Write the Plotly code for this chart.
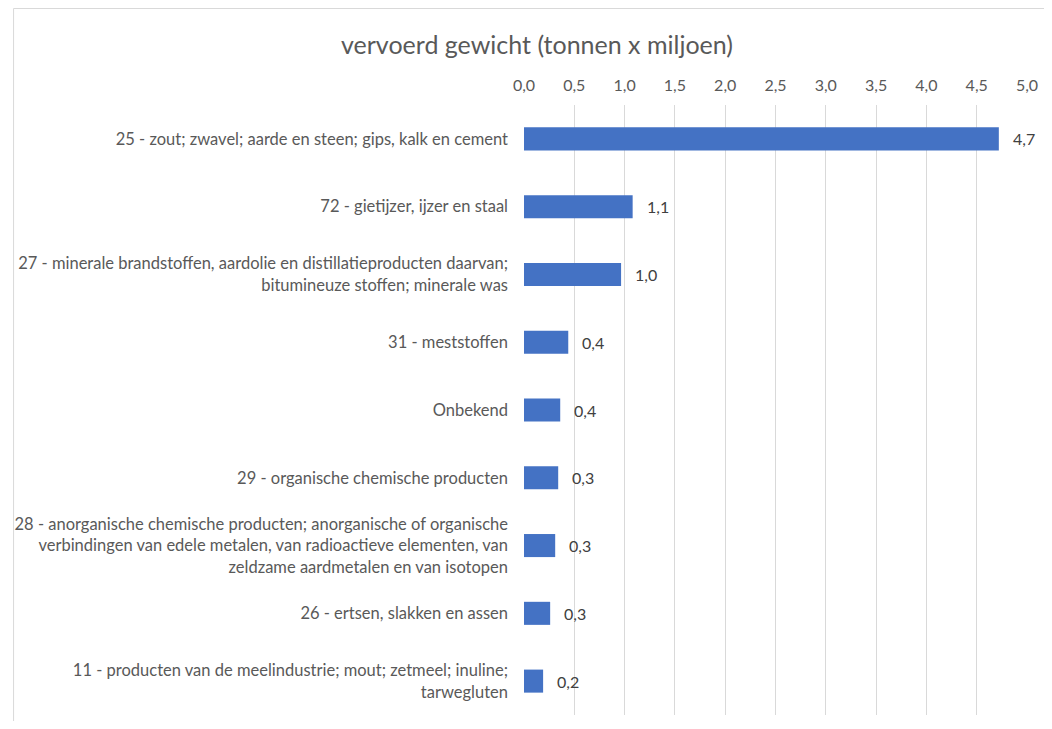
import plotly.graph_objects as go

categories = [
    "25 - zout; zwavel; aarde en steen; gips, kalk en cement",
    "72 - gietijzer, ijzer en staal",
    "27 - minerale brandstoffen, aardolie en distillatieproducten daarvan;<br>bitumineuze stoffen; minerale was",
    "31 - meststoffen",
    "Onbekend",
    "29 - organische chemische producten",
    "28 - anorganische chemische producten; anorganische of organische<br>verbindingen van edele metalen, van radioactieve elementen, van<br>zeldzame aardmetalen en van isotopen",
    "26 - ertsen, slakken en assen",
    "11 - producten van de meelindustrie; mout; zetmeel; inuline;<br>tarwegluten",
]
values = [4.72, 1.08, 0.965, 0.44, 0.36, 0.34, 0.31, 0.26, 0.19]
tick_vals = [0, 0.5, 1.0, 1.5, 2.0, 2.5, 3.0, 3.5, 4.0, 4.5, 5.0]
tick_text = ["0,0", "0,5", "1,0", "1,5", "2,0", "2,5", "3,0", "3,5", "4,0", "4,5", "5,0"]
title = "vervoerd gewicht (tonnen x miljoen)"

FONT = "Lato"
GREY = "#595959"

W, H = 1036, 713
L, R, T, B = 516, 12, 97, 6
PW, PH = W - L - R, H - T - B

fig = go.Figure(go.Bar(
    x=values, y=categories, orientation="h",
    marker=dict(color="#4472C4", line=dict(width=0)),
    hoverinfo="skip",
))

for c, v in zip(categories, values):
    fig.add_annotation(
        x=v, y=c, xref="x", yref="y", text=f"{v:.1f}".replace(".", ","),
        showarrow=False, xanchor="left", xshift=12,
        font=dict(family=FONT, size=16, color="#404040"),
    )

fig.add_shape(type="rect", xref="paper", yref="paper",
              x0=(0.5 - L) / PW, x1=(W + 20 - L) / PW,
              y0=-0.2, y1=(PH + T - 0.5) / PH,
              line=dict(color="#d9d9d9", width=1), layer="below")

fig.update_layout(
    width=W, height=H,
    margin=dict(l=L, r=R, t=T, b=B),
    paper_bgcolor="white", plot_bgcolor="white",
    bargap=0.66,
    showlegend=False,
    title=dict(text=title, x=529 / W, xanchor="center", y=1 - 37 / H, yanchor="middle",
               font=dict(family=FONT, size=25, color=GREY)),
    xaxis=dict(side="top", range=[0, 5.0], tickvals=tick_vals, ticktext=tick_text,
               showgrid=True, gridcolor="#d9d9d9", gridwidth=1, zeroline=False,
               showline=False, ticks="", ticklen=0, ticklabelstandoff=10,
               ticklabeloverflow="allow",
               tickfont=dict(family=FONT, size=16, color=GREY)),
    yaxis=dict(autorange="reversed", showgrid=False, zeroline=False, showline=False,
               ticks="", ticklabelstandoff=15,
               tickfont=dict(family=FONT, size=16.5, color=GREY)),
)

fig.write_html("out.html")
